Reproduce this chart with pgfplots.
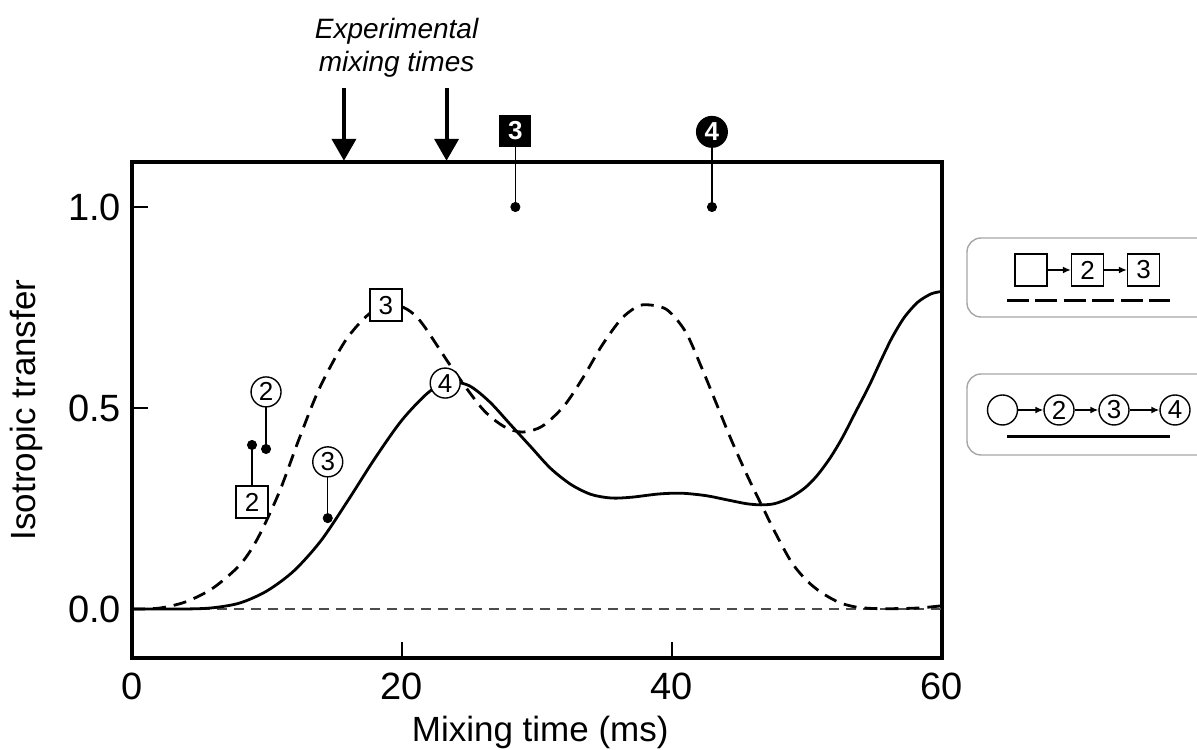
\documentclass[border=0pt]{standalone}
\usepackage{fontspec}
\setmainfont{Liberation Sans}
\usepackage{pgfplots}
\usepackage{pgfplotstable}
\pgfplotsset{compat=1.18}
\usetikzlibrary{arrows.meta}

% dashed curve: square chain
\pgfplotstableread{
t y
0 0
2 0.002
4 0.018
6 0.052
8 0.11
9.3 0.175
10.9 0.29
12.4 0.425
13.9 0.55
15.8 0.667
17.6 0.735
19.2 0.757
20.4 0.745
21.5 0.71
23.7 0.60
25.9 0.50
27.5 0.455
28.9 0.44
30.4 0.455
32 0.505
33.4 0.575
34.8 0.655
36.2 0.72
37.3 0.75
38.1 0.757
39.6 0.745
41 0.69
42.2 0.60
43.3 0.51
44.4 0.42
45.6 0.33
46.7 0.254
47.8 0.18
48.9 0.114
50 0.07
51.1 0.04
52.4 0.016
53.6 0.005
55 0.001
57 0.001
58.5 0.003
60 0.008
}\squaredata

% solid curve: circle chain
\pgfplotstableread{
t y
0 0
4 0
6 0.003
8 0.015
10 0.045
12 0.095
14 0.17
16 0.27
18 0.375
20 0.47
22 0.54
23.5 0.565
25 0.555
26.5 0.515
28 0.46
29.5 0.405
31 0.35
32.5 0.31
34 0.285
35.5 0.276
37 0.278
39 0.286
40.7 0.288
42.5 0.282
44 0.272
45.5 0.262
46.6 0.259
47.6 0.262
48.7 0.276
49.8 0.30
50.7 0.33
51.7 0.375
52.6 0.425
53.6 0.49
54.6 0.555
55.5 0.62
56.3 0.675
57.2 0.725
58.2 0.763
59.2 0.784
60 0.79
}\circledata

\tikzset{
  lbl/.style={draw, fill=white, line width=0.7pt, inner sep=0pt,
    font=\fontsize{13}{15}\selectfont},
  sq/.style={lbl, minimum size=16pt},
  ci/.style={lbl, circle, minimum size=15pt},
  conn/.style={line width=0.7pt},
  dashcurve/.style={line width=1.4pt, dash pattern=on 6.5pt off 4pt},
}

\begin{document}
\begin{tikzpicture}
\useasboundingbox (-66pt,-45.5pt) rectangle (532.5pt,329pt);
\begin{axis}[
  scale only axis, width=405pt, height=248pt,
  xmin=0, xmax=60, ymin=-0.122, ymax=1.112,
  xtick={0,20,40,60}, ytick={0,0.5,1},
  xtick pos=left, ytick pos=left, tick align=inside,
  major tick length=8pt,
  tick style={line width=0.6pt, black},
  axis line style={line width=2pt},
  /pgf/number format/assume math mode=true,
  tick label style={font=\fontsize{19}{22}\selectfont},
  yticklabel style={/pgf/number format/fixed, /pgf/number format/fixed zerofill,
    /pgf/number format/precision=1, xshift=-2pt},
  xticklabel style={yshift=-4pt},
  xlabel={Mixing time (ms)},
  ylabel={Isotropic transfer},
  label style={font=\fontsize{17.5}{20}\selectfont},
  xlabel style={at={(axis description cs:0.504,-0.151)}, anchor=center},
  ylabel style={at={(axis description cs:-0.13,0.5)}, anchor=center, rotate=0},
  clip=false,
]
\addplot[line width=0.6pt, gray!60!black, dash pattern=on 5pt off 3.5pt] coordinates {(0,0) (60,0)};
\addplot[dashcurve, smooth] table[x=t, y=y] {\squaredata};
\addplot[line width=1.4pt, smooth] table[x=t, y=y] {\circledata};

% connectors from labels to points
\addplot[conn] coordinates {(9.93,0.398) (9.93,0.54)};
\addplot[conn] coordinates {(8.89,0.408) (8.89,0.266)};
\addplot[conn] coordinates {(14.5,0.226) (14.5,0.366)};
\addplot[conn] coordinates {(28.4,1.0) (28.4,1.189)};
\addplot[conn] coordinates {(42.96,1.0) (42.96,1.187)};
\addplot[only marks, mark=*, mark size=2.3pt] coordinates {(9.93,0.398) (8.89,0.408) (14.5,0.226) (28.4,1.0) (42.96,1.0)};

\node[ci] at (axis cs:9.93,0.54) {2};
\node[sq] at (axis cs:8.89,0.266) {2};
\node[ci] at (axis cs:14.5,0.366) {3};
\node[sq] at (axis cs:18.8,0.756) {3};
\node[ci] at (axis cs:23.2,0.562) {4};
\node[fill=black, text=white, minimum size=16pt, inner sep=0pt,
  font=\fontsize{13}{15}\selectfont\bfseries] at (axis cs:28.4,1.189) {3};
\node[circle, fill=black, text=white, minimum size=16pt, inner sep=0pt,
  font=\fontsize{13}{15}\selectfont\bfseries] at (axis cs:42.96,1.187) {4};

% experimental mixing times
\draw[line width=2pt, -{Triangle[width=12pt,length=11pt]}] (axis cs:15.7,1.296) -- (axis cs:15.7,1.115);
\draw[line width=2pt, -{Triangle[width=12pt,length=11pt]}] (axis cs:23.3,1.296) -- (axis cs:23.3,1.115);
\node[align=center, font=\fontsize{14}{16.5}\selectfont\itshape] at (axis cs:19.6,1.395)
  {Experimental\\mixing times};
\end{axis}

% legend boxes (pixel grid of the reference)
\begin{scope}[shift={(-66pt,329pt)}, x=0.5pt, y=-0.5pt]
\draw[gray!70, line width=0.7pt, rounded corners=7pt] (967,238) rectangle (1240,317);
\node[sq] (a1) at (1031,270) {};
\node[sq] (a2) at (1087.5,270) {2};
\node[sq] (a3) at (1143.5,270) {3};
\draw[conn, -{Latex[length=4pt,width=3.5pt]}] (a1) -- (a2);
\draw[conn, -{Latex[length=4pt,width=3.5pt]}] (a2) -- (a3);
\draw[line width=1.5pt, dash pattern=on 11pt off 3.2pt] (1007,301) -- (1170,301);

\draw[gray!70, line width=0.7pt, rounded corners=7pt] (967,374) rectangle (1240,455);
\node[ci] (b1) at (1002.5,410) {};
\node[ci] (b2) at (1059,410) {2};
\node[ci] (b3) at (1114,410) {3};
\node[ci] (b4) at (1175,410) {4};
\draw[conn, -{Latex[length=4pt,width=3.5pt]}] (b1) -- (b2);
\draw[conn, -{Latex[length=4pt,width=3.5pt]}] (b2) -- (b3);
\draw[conn, -{Latex[length=4pt,width=3.5pt]}] (b3) -- (b4);
\draw[line width=1.5pt] (1007,437) -- (1170,437);
\end{scope}
\end{tikzpicture}
\end{document}
